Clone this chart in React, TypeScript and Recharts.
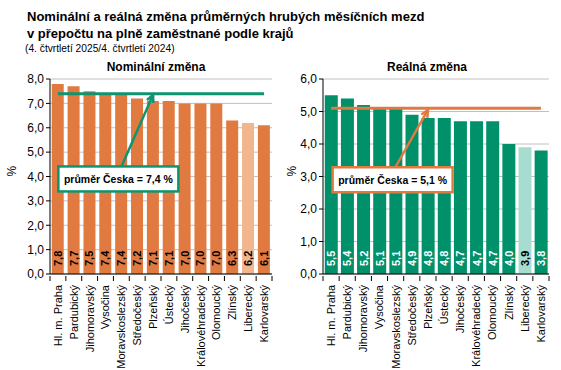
import React from "react";
import {
  BarChart,
  Bar,
  Cell,
  XAxis,
  YAxis,
  CartesianGrid,
  ReferenceLine,
  ReferenceDot,
  LabelList,
} from "recharts";

// kraje seřazené podle nominální změny
const categories = [
  "Hl. m. Praha",
  "Pardubický",
  "Jihomoravský",
  "Vysočina",
  "Moravskoslezský",
  "Středočeský",
  "Plzeňský",
  "Ústecký",
  "Jihočeský",
  "Královéhradecký",
  "Olomoucký",
  "Zlínský",
  "Liberecký",
  "Karlovarský",
];
const nominalValues = [7.8, 7.7, 7.5, 7.4, 7.4, 7.2, 7.1, 7.1, 7.0, 7.0, 7.0, 6.3, 6.2, 6.1];
const realValues = [5.5, 5.4, 5.2, 5.1, 5.1, 4.9, 4.8, 4.8, 4.7, 4.7, 4.7, 4.0, 3.9, 3.8];
const nominalAvg = 7.4;
const realAvg = 5.1;
const highlighted = "Liberecký";
const nominalTicks = [0, 1, 2, 3, 4, 5, 6, 7, 8];
const realTicks = [0, 1, 2, 3, 4, 5, 6];

const FONT = "'Liberation Sans', Arial, sans-serif";
const fmt = (v: number) => v.toFixed(1).replace(".", ",");

interface PanelProps {
  title: string;
  values: number[];
  ticks: number[];
  avg: number;
  color: string;
  lightColor: string;
  lineColor: string;
  labelColor: string;
  left: number;
  width: number;
  yAxisWidth: number;
  rightMargin: number;
  boxY: number;
  arrowFromY: number;
  titleCenter: number;
}

const TOP = 79;
const XAXIS_H = 96;
const HEIGHT = 370;

const Panel: React.FC<PanelProps> = (p) => {
  const data = categories.map((name, i) => ({ name, value: p.values[i] }));
  const plotW = p.width - p.yAxisWidth - p.rightMargin;
  const band = plotW / categories.length;
  const avgLabel = `průměr Česka = ${fmt(p.avg)} %`;

  const XTick = (props: any) => {
    const { x, y, payload, index } = props;
    const ty = y + 9;
    return (
      <g>
        <line x1={x - band / 2} y1={y} x2={x - band / 2} y2={y + 5} stroke="#000" />
        {index === categories.length - 1 && (
          <line x1={x + band / 2} y1={y} x2={x + band / 2} y2={y + 5} stroke="#000" />
        )}
        <text
          x={x}
          y={ty}
          transform={`rotate(-90 ${x} ${ty})`}
          textAnchor="end"
          dy="0.36em"
          fontSize={11}
          fontFamily={FONT}
          fill="#000"
        >
          {payload.value}
        </text>
      </g>
    );
  };

  const ValueLabel = (props: any) => {
    const { x, y, width, height, value, index } = props;
    const cx = x + width / 2;
    const by = y + height - 8;
    const fill = categories[index] === highlighted ? "#000" : p.labelColor;
    return (
      <text
        x={cx}
        y={by}
        transform={`rotate(-90 ${cx} ${by})`}
        textAnchor="start"
        dy="0.36em"
        fontSize={11}
        fontWeight="bold"
        fontFamily={FONT}
        fill={fill}
      >
        {fmt(value)}
      </text>
    );
  };

  const Arrow = (props: any) => {
    const { x1, y1, x2, y2 } = props;
    const ang = Math.atan2(y2 - y1, x2 - x1);
    const L = 8;
    const a1 = ang + Math.PI - 0.45;
    const a2 = ang + Math.PI + 0.45;
    return (
      <g>
        <line x1={x1} y1={y1} x2={x2} y2={y2} stroke={p.lineColor} strokeWidth={2.5} />
        <polyline
          points={`${x2 + L * Math.cos(a1)},${y2 + L * Math.sin(a1)} ${x2},${y2} ${x2 + L * Math.cos(a2)},${y2 + L * Math.sin(a2)}`}
          fill="none"
          stroke={p.lineColor}
          strokeWidth={2.5}
        />
      </g>
    );
  };

  const Box = (props: any) => {
    const { cx, cy } = props;
    const w = 120;
    const h = 25;
    return (
      <g>
        <rect
          x={cx - w / 2 - 3}
          y={cy - h / 2}
          width={w}
          height={h}
          fill="#fff"
          stroke={p.lineColor}
          strokeWidth={2.5}
        />
        <text
          x={cx - 3}
          y={cy}
          dy="0.36em"
          textAnchor="middle"
          fontSize={10.5}
          fontWeight="bold"
          fontFamily={FONT}
          fill="#000"
        >
          {avgLabel}
        </text>
      </g>
    );
  };

  return (
    <div style={{ position: "absolute", left: p.left, top: 0, width: p.width, height: HEIGHT }}>
      <div
        style={{
          position: "absolute",
          left: p.titleCenter - 100,
          width: 200,
          top: 60,
          textAlign: "center",
          fontFamily: FONT,
          fontWeight: "bold",
          fontSize: 12,
          color: "#000",
        }}
      >
        {p.title}
      </div>
      <BarChart
        width={p.width}
        height={HEIGHT}
        data={data}
        margin={{ top: TOP, right: p.rightMargin, left: 0, bottom: 0 }}
        barCategoryGap="11%"
      >
        <CartesianGrid vertical={false} stroke="#c0c0c0" />
        <XAxis
          dataKey="name"
          interval={0}
          height={XAXIS_H}
          tick={<XTick />}
          tickLine={false}
          tickSize={0}
          axisLine={{ stroke: "#000" }}
        />
        <YAxis
          width={p.yAxisWidth}
          domain={[p.ticks[0], p.ticks[p.ticks.length - 1]]}
          ticks={p.ticks}
          tickFormatter={fmt}
          tick={{ fontSize: 12, fill: "#000", fontFamily: FONT }}
          tickSize={4}
          tickLine={{ stroke: "#000" }}
          axisLine={{ stroke: "#000" }}
          label={{
            value: "%",
            angle: -90,
            position: "insideLeft",
            offset: 12,
            style: { fontSize: 12, fill: "#000", fontFamily: FONT },
          }}
        />
        <Bar dataKey="value" isAnimationActive={false}>
          {data.map((d) => (
            <Cell key={d.name} fill={d.name === highlighted ? p.lightColor : p.color} />
          ))}
          <LabelList dataKey="value" content={<ValueLabel />} />
        </Bar>
        <ReferenceLine
          segment={[
            { x: categories[0], y: p.avg },
            { x: categories[categories.length - 1], y: p.avg },
          ]}
          stroke={p.lineColor}
          strokeWidth={3}
        />
        <ReferenceLine
          segment={[
            { x: "Moravskoslezský", y: p.arrowFromY },
            { x: "Plzeňský", y: p.avg - 0.05 },
          ]}
          shape={<Arrow />}
        />
        <ReferenceDot x="Moravskoslezský" y={p.boxY} shape={<Box />} />
      </BarChart>
    </div>
  );
}

export default function App() {
  return (
    <div
      style={{
        position: "absolute",
        left: 0,
        top: 0,
        width: 561,
        height: 370,
        background: "#fff",
        fontFamily: FONT,
      }}
    >
      <div
        style={{
          position: "absolute",
          left: 27,
          top: 8,
          fontWeight: "bold",
          fontSize: 13,
          lineHeight: "17px",
          color: "#000",
        }}
      >
        Nominální a reálná změna průměrných hrubých měsíčních mezd
        <br />v přepočtu na plně zaměstnané podle krajů
      </div>
      <div
        style={{
          position: "absolute",
          left: 25,
          top: 42,
          fontSize: 11,
          color: "#000",
          whiteSpace: "nowrap",
          transform: "scaleX(0.93)",
          transformOrigin: "left top",
        }}
      >
        (4. čtvrtletí 2025/4. čtvrtletí 2024)
      </div>
      <Panel
        title="Nominální změna"
        values={nominalValues}
        ticks={nominalTicks}
        avg={nominalAvg}
        color="#E07A40"
        lightColor="#F2B68E"
        lineColor="#0E9570"
        labelColor="#000"
        left={0}
        width={280}
        yAxisWidth={50}
        rightMargin={8}
        boxY={3.9}
        arrowFromY={4.4}
        titleCenter={156}
      />
      <Panel
        title="Reálná změna"
        values={realValues}
        ticks={realTicks}
        avg={realAvg}
        color="#00916B"
        lightColor="#A7DDD0"
        lineColor="#E07A40"
        labelColor="#fff"
        left={280}
        width={281}
        yAxisWidth={43}
        rightMargin={12}
        boxY={2.9}
        arrowFromY={3.3}
        titleCenter={147}
      />
    </div>
  );
}
